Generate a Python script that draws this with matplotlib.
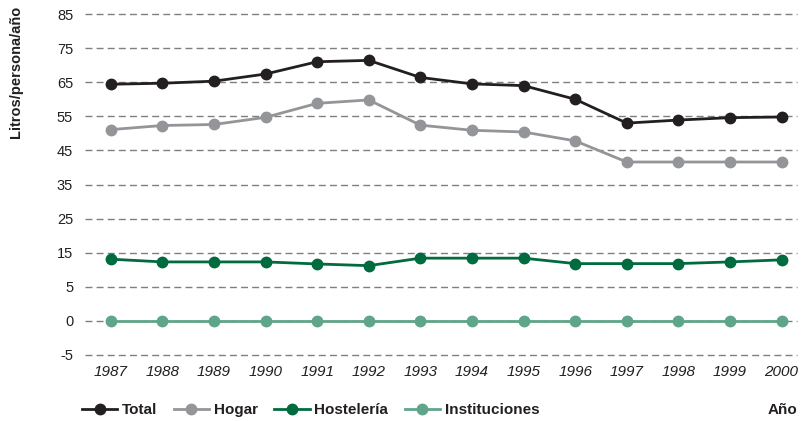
import matplotlib
matplotlib.use("Agg")
import matplotlib.pyplot as plt
import numpy as np
from matplotlib.lines import Line2D

plt.rcParams['font.family'] = ['Liberation Sans', 'DejaVu Sans']

years = [1987, 1988, 1989, 1990, 1991, 1992, 1993, 1994, 1995, 1996, 1997, 1998, 1999, 2000]
total = [64.4, 64.7, 65.3, 67.4, 71.0, 71.4, 66.4, 64.5, 64.0, 60.0, 53.0, 53.9, 54.6, 54.8]
hogar = [51.1, 52.3, 52.6, 54.7, 58.8, 59.8, 52.4, 50.9, 50.4, 47.8, 41.6, 41.6, 41.6, 41.6]
hosteleria = [13.1, 12.3, 12.3, 12.3, 11.7, 11.2, 13.4, 13.4, 13.4, 11.8, 11.8, 11.8, 12.3, 12.9]
instituciones = [0, 0, 0, 0, 0, 0, 0, 0, 0, 0, 0, 0, 0, 0]
series_names = ['Total', 'Hogar', 'Hostelería', 'Instituciones']
colors = ['#231f20', '#939598', '#006b3f', '#5fa58a']
yticks = [-5, 0, 5, 15, 25, 35, 45, 55, 65, 75, 85]


def fwd(v):
    v = np.asarray(v, dtype=float)
    return np.where(v <= 5, v / 5.0 + 1.0, 2.0 + (v - 5.0) / 10.0)


def inv(y):
    y = np.asarray(y, dtype=float)
    return np.where(y <= 2, (y - 1.0) * 5.0, 5.0 + (y - 2.0) * 10.0)


fig = plt.figure(figsize=(8.01, 4.21), dpi=100)
ax = fig.add_axes([85 / 801, 1 - 355 / 421, (797 - 85) / 801, (355 - 14) / 421])
ax.set_yscale('function', functions=(fwd, inv))

data = [total, hogar, hosteleria, instituciones]
handles = []
for vals, name, c in zip(data, series_names, colors):
    ax.plot(years, vals, color=c, lw=2.0, marker='o', ms=7.5, zorder=3)
    handles.append(Line2D([], [], color=c, lw=2.0, marker='o', ms=7.5))

ax.set_ylim(-5, 85)
ax.set_xlim(1986.5, 2000.3)
ax.set_yticks(yticks)
ax.set_yticklabels([str(t) for t in yticks])
ax.set_xticks(years)
ax.set_xticklabels([str(y) for y in years], fontstyle='italic', fontsize=11)
ax.tick_params(axis='both', length=0, colors='#231f20')
ax.tick_params(axis='y', labelsize=10.5, pad=8.5)
ax.tick_params(axis='x', pad=7)
ax.yaxis.grid(True, color='#7f7f7f', lw=1.0, linestyle=(0, (5, 3)))
for gl in ax.yaxis.get_gridlines():
    gl.set_clip_on(False)
ax.set_axisbelow(True)
for s in ax.spines.values():
    s.set_visible(False)

fig.text(16.5 / 801, 1 - 72 / 421, 'Litros/persona/año', rotation=90, ha='center', va='center',
         fontsize=10.5, fontweight='bold', color='#231f20')

leg = fig.legend(handles, series_names, loc='center left', bbox_to_anchor=(82 / 801, 1 - 410 / 421),
                 ncol=4, frameon=False, borderpad=0, borderaxespad=0, handlelength=2.3,
                 handletextpad=0.3, columnspacing=1.1,
                 prop={'size': 11, 'weight': 'bold'})
for t in leg.get_texts():
    t.set_color('#231f20')

fig.text(797 / 801, 1 - 410 / 421, 'Año', ha='right', va='center', fontsize=11,
         fontweight='bold', color='#231f20')

fig.savefig('out.png', dpi=100)
